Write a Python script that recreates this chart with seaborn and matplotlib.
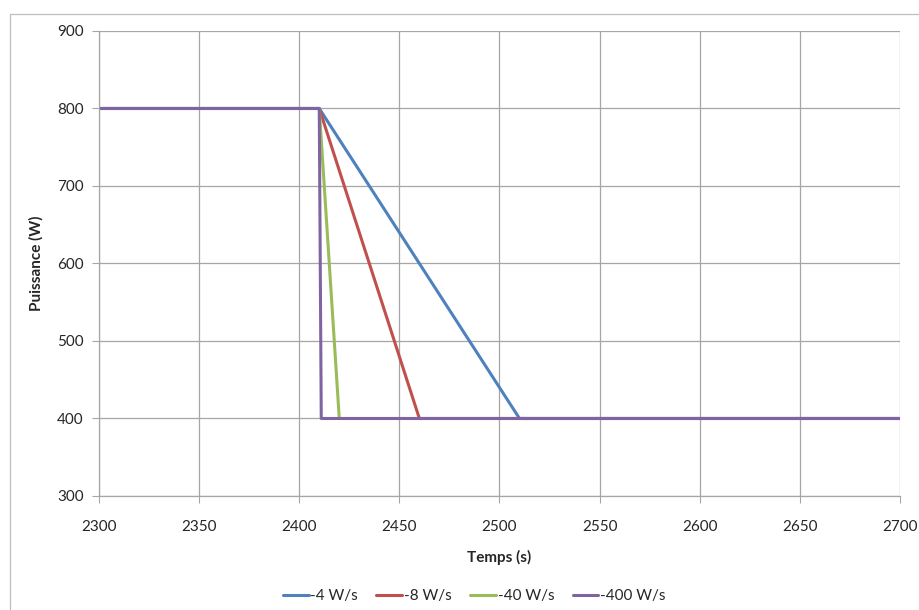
import pandas as pd
import matplotlib.pyplot as plt
import seaborn as sns
from matplotlib.lines import Line2D

# ramp data: power drops from 800 W to 400 W starting at t=2410 s
series_names = ["-4 W/s", "-8 W/s", "-40 W/s", "-400 W/s"]
t_start = 2300
t_ramp = 2410
t_end_ramp = [2510, 2460, 2420, 2411]
t_stop = 2700
p_high = 800
p_low = 400

colors = ["#4F81BD", "#C0504D", "#9BBB59", "#8064A2"]

rows = []
for name, t_end in zip(series_names, t_end_ramp):
    for t, p in [(t_start, p_high), (t_ramp, p_high), (t_end, p_low), (t_stop, p_low)]:
        rows.append({"Temps (s)": t, "Puissance (W)": p, "serie": name})
df = pd.DataFrame(rows)

sns.set_style("white")
plt.rcParams['font.family'] = ['Lato', 'DejaVu Sans']

fig = plt.figure(figsize=(9.19, 6.10), dpi=100)
ax = fig.add_axes([0.1077, 0.1869, 0.8716, 0.7623])

sns.lineplot(data=df, x="Temps (s)", y="Puissance (W)", hue="serie",
             hue_order=series_names, palette=colors, linewidth=2.2,
             estimator=None, sort=False, ax=ax)

ax.set_xlim(2300, 2700)
ax.set_ylim(300, 900)
ax.set_xticks(range(2300, 2701, 50))
ax.set_yticks(range(300, 901, 100))
ax.grid(True, color="#A6A6A6", linewidth=0.9)
ax.set_axisbelow(True)
for s in ax.spines.values():
    s.set_color("#A6A6A6")
    s.set_linewidth(0.9)
ax.spines["top"].set_visible(False)
ax.spines["right"].set_visible(False)
ax.tick_params(axis="y", length=5, color="#A6A6A6", labelsize=11, pad=6, direction="out", left=True)
ax.tick_params(axis="x", length=5, color="#A6A6A6", labelsize=11, pad=12, direction="out", bottom=True)
ax.set_xlabel("Temps (s)", fontsize=11, fontweight="bold", labelpad=12)
ax.set_ylabel("Puissance (W)", fontsize=11, fontweight="bold", labelpad=10)

handles = [Line2D([0], [0], color=c, lw=2.2) for c in colors]
ax.legend(handles, series_names, loc="center", bbox_to_anchor=(0.516, 1 - 596 / 610),
          bbox_transform=fig.transFigure, ncol=4, frameon=False, fontsize=11,
          handlelength=1.7, handletextpad=0.1, columnspacing=1.2)

# chart area border (Excel style)
fig.add_artist(Line2D([10 / 919, 10 / 919], [0, 1 - 14 / 610], color="#BFBFBF", lw=0.9))
fig.add_artist(Line2D([10 / 919, 1], [1 - 14 / 610, 1 - 14 / 610], color="#BFBFBF", lw=0.9))

fig.savefig("out.png", dpi=100)
